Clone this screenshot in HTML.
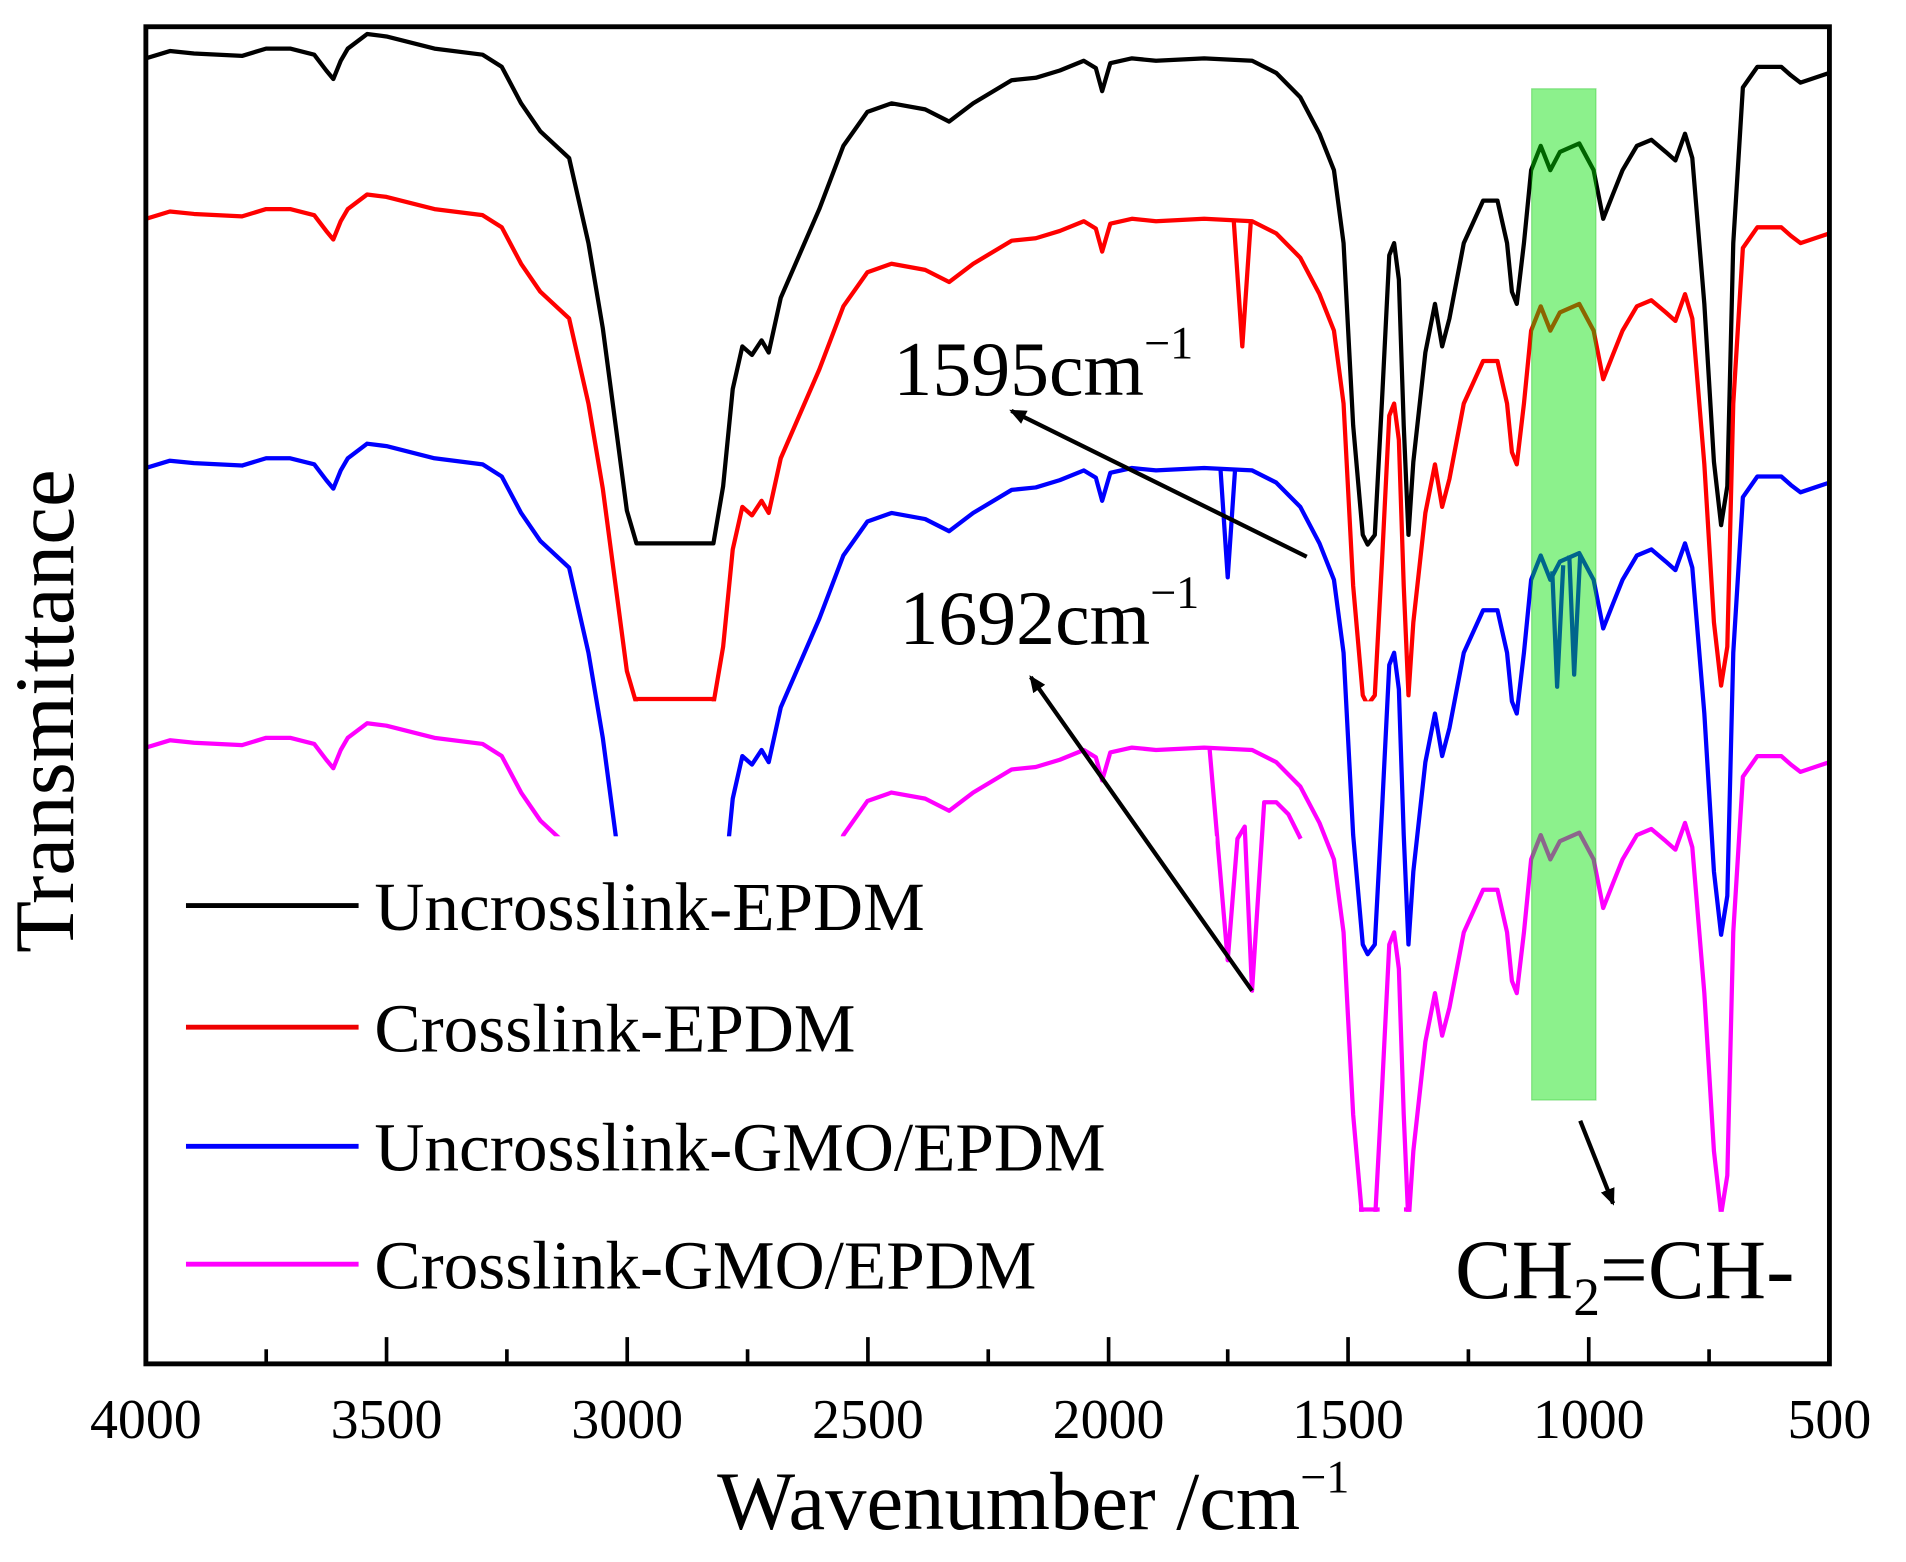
<!DOCTYPE html>
<html><head><meta charset="utf-8"><style>
html,body{margin:0;padding:0;background:#fff;}
svg{display:block;}
text{font-family:"Liberation Serif",serif;fill:#000;}
</style></head><body>
<svg width="1906" height="1562" viewBox="0 0 1568 1285" preserveAspectRatio="none" xmlns="http://www.w3.org/2000/svg">
<defs>
<clipPath id="pc"><rect x="120" y="22" width="1385" height="1100"/></clipPath>
<clipPath id="cr"><rect x="120" y="0" width="1385" height="577"/></clipPath>
<clipPath id="cb"><rect x="120" y="0" width="1385" height="792"/></clipPath>
<clipPath id="cp"><rect x="120" y="0" width="1385" height="997"/></clipPath>
<marker id="ah" markerWidth="14" markerHeight="12" refX="12" refY="6" orient="auto" markerUnits="userSpaceOnUse"><path d="M0,0 L14,6 L0,12 z" fill="#000"/></marker>
<path id="bk" d="M120,48 L139.8,42 L159.6,44 L199.1,46 L218.9,40 L238.7,40 L258.5,45 L268.4,58 L274.2,65 L280.3,50 L286.1,40 L302,28 L317.9,30 L357.4,40 L397,45 L412.8,55 L428.7,85 L444.5,108 L468.2,130 L484.1,200 L495.9,270 L507.8,360 L515.7,420 L523.6,447 L586.9,447 L594.9,400 L602.8,320 L610.7,285 L618.6,292 L626.5,280 L632.4,290 L642.3,245 L674,172 L693.8,120 L713.6,92 L733.4,85 L761.1,90 L780.8,100 L800.6,85 L832.3,66 L852.1,64 L871.9,58 L891.6,50 L901.5,56 L906.7,75 L913.4,52 L931.2,48 L951,50 L990.6,48 L1030.1,50 L1049.9,60 L1069.7,80 L1085.5,110 L1097.4,140 L1105.3,200 L1113.2,350 L1121.1,440 L1125.1,448 L1131,440 L1136.9,330 L1142.9,210 L1146.9,200 L1150.8,230 L1154.8,350 L1158.7,440 L1162.7,380 L1172.6,290 L1180.5,250 L1186.4,285 L1192.4,262 L1204.2,200 L1220.1,165 L1231.9,165 L1239.8,200 L1243.8,240 L1247.8,250 L1253.7,200 L1259.6,140 L1267.5,120 L1275.4,140 L1283.3,125 L1299.2,118 L1311,140 L1318.9,180 L1326.8,160 L1334.8,140 L1346.6,120 L1358.5,115 L1370.4,125 L1378.3,132 L1386.2,110 L1392.2,130 L1402.1,250 L1410,380 L1415.9,432 L1421,400 L1425.9,200 L1433.8,72 L1445.7,55 L1465.4,55 L1473.3,62 L1481.2,68 L1493.1,64 L1505,60"/>
</defs>
<g clip-path="url(#pc)" fill="none" stroke-width="3.5" stroke-linejoin="round">
<use href="#bk" stroke="#000"/>
<g clip-path="url(#cr)"><use href="#bk" stroke="#f00" transform="translate(0,132)"/></g>
<line x1="523" y1="575" x2="587" y2="575" stroke="#f00"/>
<path stroke="#f00" d="M1015,182 L1022,285 L1029,182"/>
<g clip-path="url(#cb)"><use href="#bk" stroke="#00f" transform="translate(0,337)"/></g>
<path stroke="#00f" d="M1004,385 L1010,475 L1016,387"/>
<path stroke="#00f" d="M1277,470 L1281,565 L1286,465 M1291,457 L1295,555 L1300,456"/>
<g clip-path="url(#cp)"><use href="#bk" stroke="#f0f" transform="translate(0,567)"/></g>
<line x1="1118" y1="995" x2="1135" y2="995" stroke="#f0f"/>
<line x1="1155" y1="995" x2="1160" y2="995" stroke="#f0f"/>
<path stroke="#f0f" d="M995,615 L1010,790 L1018,690 L1024,680 L1030,815 L1040,660 L1050,660 L1060,670 L1070,690"/>
</g>
<rect x="122" y="688" width="878" height="432" fill="#fff"/>
<rect x="1260" y="73" width="53" height="832" fill="rgb(0,225,0)" fill-opacity="0.45" stroke="rgb(0,180,0)" stroke-opacity="0.3" stroke-width="1"/>
<rect x="120" y="22" width="1385" height="1100" fill="none" stroke="#000" stroke-width="4"/>
<g stroke="#000" stroke-width="3">
<line x1="120" y1="1122" x2="120" y2="1100"/><line x1="219" y1="1122" x2="219" y2="1110"/>
<line x1="318" y1="1122" x2="318" y2="1100"/><line x1="417" y1="1122" x2="417" y2="1110"/>
<line x1="516" y1="1122" x2="516" y2="1100"/><line x1="615" y1="1122" x2="615" y2="1110"/>
<line x1="714" y1="1122" x2="714" y2="1100"/><line x1="813" y1="1122" x2="813" y2="1110"/>
<line x1="912" y1="1122" x2="912" y2="1100"/><line x1="1010" y1="1122" x2="1010" y2="1110"/>
<line x1="1109" y1="1122" x2="1109" y2="1100"/><line x1="1208" y1="1122" x2="1208" y2="1110"/>
<line x1="1307" y1="1122" x2="1307" y2="1100"/><line x1="1406" y1="1122" x2="1406" y2="1110"/>
</g>
<g font-size="46" text-anchor="middle">
<text x="120" y="1183">4000</text><text x="318" y="1183">3500</text><text x="516" y="1183">3000</text><text x="714" y="1183">2500</text><text x="912" y="1183">2000</text><text x="1109" y="1183">1500</text><text x="1307" y="1183">1000</text><text x="1505" y="1183">500</text>
</g>
<text x="850" y="1258" font-size="68" text-anchor="middle">Wavenumber /cm<tspan font-size="38" dy="-30">−1</tspan></text>
<text transform="translate(60,585) rotate(-90)" font-size="70" text-anchor="middle">Transmittance</text>
<g font-size="57">
<line x1="153" y1="745" x2="295" y2="745" stroke="#000" stroke-width="4"/><text x="308" y="765">Uncrosslink-EPDM</text>
<line x1="153" y1="845" x2="295" y2="845" stroke="#e00" stroke-width="4"/><text x="308" y="865">Crosslink-EPDM</text>
<line x1="153" y1="943" x2="295" y2="943" stroke="#00f" stroke-width="4"/><text x="308" y="963">Uncrosslink-GMO/EPDM</text>
<line x1="153" y1="1040" x2="295" y2="1040" stroke="#f0f" stroke-width="4"/><text x="308" y="1060">Crosslink-GMO/EPDM</text>
</g>
<text x="735" y="325" font-size="64">1595cm<tspan font-size="38" dy="-30">−1</tspan></text>
<text x="740" y="530" font-size="64">1692cm<tspan font-size="38" dy="-30">−1</tspan></text>
<line x1="1075" y1="458" x2="832" y2="338" stroke="#000" stroke-width="3.5" marker-end="url(#ah)"/>
<line x1="1030" y1="815" x2="848" y2="557" stroke="#000" stroke-width="3.5" marker-end="url(#ah)"/>
<line x1="1300" y1="922" x2="1327" y2="990" stroke="#000" stroke-width="3.5" marker-end="url(#ah)"/>
<text x="1197" y="1068" font-size="70">CH<tspan font-size="44" dy="14">2</tspan><tspan dy="-14">=CH-</tspan></text>
</svg>
</body></html>
